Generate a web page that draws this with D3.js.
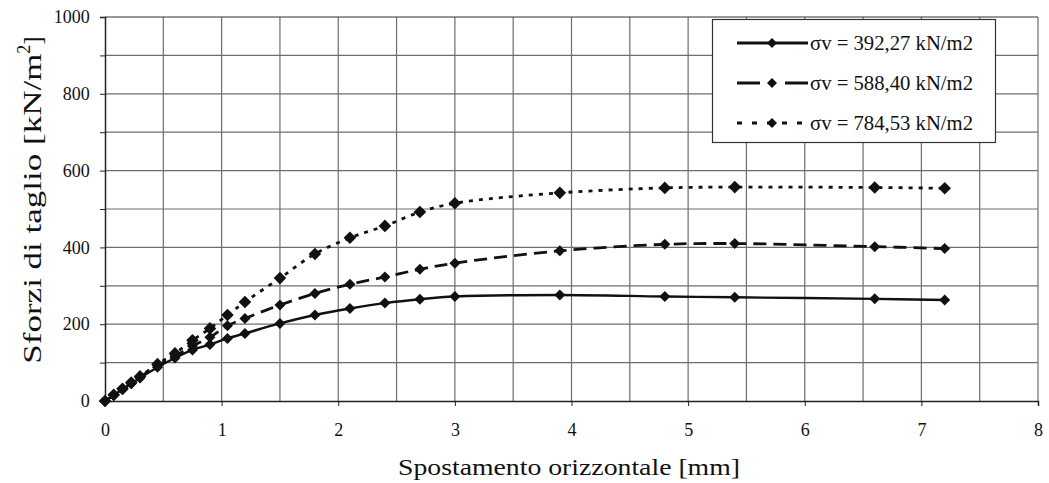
<!DOCTYPE html>
<html><head><meta charset="utf-8">
<script src="https://cdn.jsdelivr.net/npm/d3@7"></script>
<style>body{margin:0;background:#fff}svg{display:block}</style>
</head><body><svg id="c" width="1049" height="483"></svg>
<script>
const xValues = [0, 0.075, 0.15, 0.225, 0.3, 0.45, 0.6, 0.75, 0.9, 1.05, 1.2, 1.5, 1.8, 2.1, 2.4, 2.7, 3.0, 3.9, 4.8, 5.4, 6.6, 7.2];
const series1 = [0, 15, 30, 45, 60, 88, 112, 133, 147, 163, 176, 202, 224, 241, 255, 265, 272, 276, 272, 270, 266, 263];
const series2 = [0, 15, 30, 46, 62, 92, 117, 143, 166, 196, 215, 250, 280, 304, 323, 343, 359, 391, 408, 410, 402, 397];
const series3 = [0, 16, 32, 48, 64, 96, 124, 158, 189, 224, 258, 320, 383, 425, 456, 492, 515, 542, 555, 557, 556, 554];
const seriesNames = ["σv = 392,27 kN/m2", "σv = 588,40 kN/m2", "σv = 784,53 kN/m2"];
const xTicks = [0, 1, 2, 3, 4, 5, 6, 7, 8];
const yTicks = [0, 200, 400, 600, 800, 1000];

(function () {
const svg = d3.select("#c");
const pL = 105, pR = 1038, pT = 17, pB = 401;
const x = d3.scaleLinear().domain([0, 8]).range([pL, pR]);
const y = d3.scaleLinear().domain([0, 1000]).range([pB, pT]);
const font = "'Liberation Serif', 'Times New Roman', serif";

// grid
const g = svg.append("g");
g.selectAll("line.v").data(d3.range(0.5, 8.01, 0.5)).enter().append("line")
  .attr("x1", d => x(d)).attr("x2", d => x(d)).attr("y1", y(0)).attr("y2", y(1000))
  .attr("stroke", "#6e6e6e").attr("stroke-width", 1.2);
g.selectAll("line.h").data(d3.range(100, 1001, 100)).enter().append("line")
  .attr("y1", d => y(d)).attr("y2", d => y(d)).attr("x1", x(0)).attr("x2", x(8))
  .attr("stroke", d => d === 1000 ? "#333" : "#6e6e6e").attr("stroke-width", 1.2);

// axes
const xAxis = d3.axisBottom(x).tickValues(xTicks).tickSize(5).tickFormat(d3.format("d"));
const yAxis = d3.axisLeft(y).tickValues(d3.range(0, 1001, 100)).tickSize(5)
  .tickFormat(d => yTicks.includes(d) ? d : "");
const gx = svg.append("g").attr("transform", `translate(0,${pB})`).call(xAxis);
const gy = svg.append("g").attr("transform", `translate(${pL},0)`).call(yAxis);
[gx, gy].forEach(a => {
  a.select(".domain").attr("stroke", "#222").attr("stroke-width", 1.5);
  a.selectAll(".tick line").attr("stroke", "#222");
  a.selectAll("text").attr("font-family", font).attr("font-size", 18).attr("fill", "#111");
});
gx.selectAll("text").attr("dy", "1.5em");
gy.selectAll("text").attr("dx", "-0.4em");

// titles
svg.append("text").attr("x", 569).attr("y", 475).attr("text-anchor", "middle")
  .attr("font-family", font).attr("font-size", 23).attr("fill", "#111")
  .attr("textLength", 342).attr("lengthAdjust", "spacingAndGlyphs")
  .text("Spostamento orizzontale [mm]");
const yt = svg.append("text").attr("transform", `translate(41,200) rotate(-90)`)
  .attr("text-anchor", "middle").attr("font-family", font).attr("font-size", 25).attr("fill", "#111");
yt.append("tspan").attr("textLength", 310).attr("lengthAdjust", "spacingAndGlyphs").text("Sforzi di taglio [kN/m");
yt.append("tspan").attr("dy", -11).attr("font-size", 18).text("2");
yt.append("tspan").attr("dy", 11).text("]");

// series
const styles = [
  { dash: null, w: 2.4, ms: 5.5 },
  { dash: "13,7", w: 2.8, ms: 5.5 },
  { dash: "4,6", w: 2.8, ms: 6.3 }
];
const allSeries = [series1, series2, series3];
const line = d3.line().x(d => x(d[0])).y(d => y(d[1])).curve(d3.curveCatmullRom.alpha(0.5));
const diamond = s => `M0,${-s}L${s},0L0,${s}L${-s},0Z`;

allSeries.forEach((vals, i) => {
  const pts = xValues.map((xv, j) => [xv, vals[j]]);
  svg.append("path").datum(pts).attr("d", line).attr("fill", "none")
    .attr("stroke", "#111").attr("stroke-width", styles[i].w)
    .attr("stroke-dasharray", styles[i].dash);
  svg.append("g").selectAll("path").data(pts).enter().append("path")
    .attr("d", diamond(styles[i].ms)).attr("fill", "#111")
    .attr("transform", d => `translate(${x(d[0])},${y(d[1])})`);
});

// legend
const lg = svg.append("g");
lg.append("rect").attr("x", 712.5).attr("y", 19.5).attr("width", 283).attr("height", 123)
  .attr("fill", "#fff").attr("stroke", "#333").attr("stroke-width", 1.2);
const rowsY = [43, 83, 123];
seriesNames.forEach((nm, i) => {
  lg.append("line").attr("x1", 737).attr("x2", 808).attr("y1", rowsY[i]).attr("y2", rowsY[i])
    .attr("stroke", "#111").attr("stroke-width", 2.8)
    .attr("stroke-dasharray", i === 0 ? null : (i === 1 ? "23,25,23" : "5,10"));
  lg.append("path").attr("d", diamond(5)).attr("fill", "#111")
    .attr("transform", `translate(772,${rowsY[i]})`);
  lg.append("text").attr("x", 810).attr("y", rowsY[i] + 7).attr("font-family", font)
    .attr("font-size", 20).attr("fill", "#111")
    .attr("textLength", 163).attr("lengthAdjust", "spacingAndGlyphs").text(nm);
});
})();
</script></body></html>
